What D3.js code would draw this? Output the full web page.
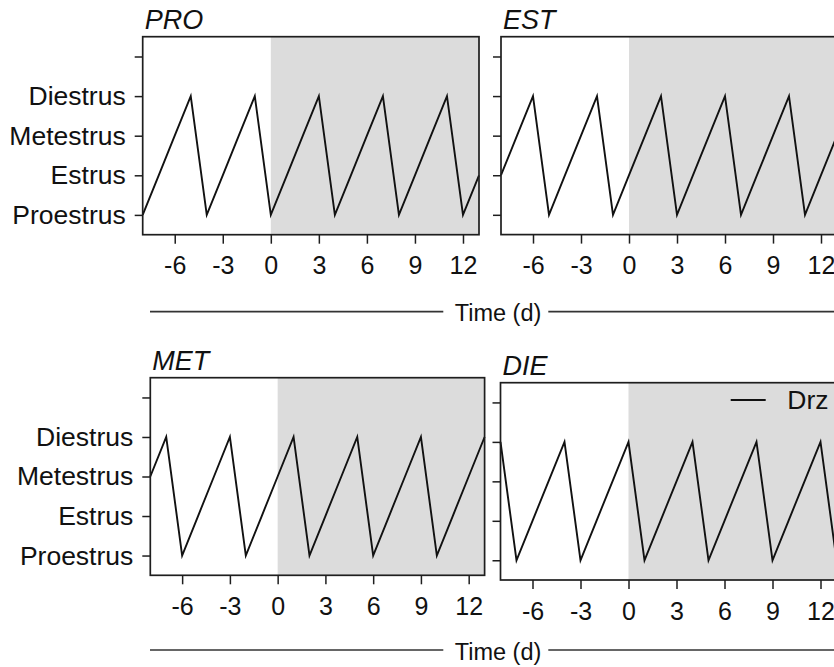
<!DOCTYPE html>
<html>
<head>
<meta charset="utf-8">
<script src="https://cdnjs.cloudflare.com/ajax/libs/d3/7.8.5/d3.min.js"></script>
<style>
  body { margin: 0; background: #fff; }
  svg { display: block; font-family: Arial, "Liberation Sans", sans-serif; }
  .frame { fill: none; stroke: #1e1e1e; stroke-width: 1.7; }
  .axis path { display: none; }
  .axis line { stroke: #1e1e1e; stroke-width: 1.5; }
  .axis text { fill: #111; font-family: Arial, "Liberation Sans", sans-serif; }
  .stage-line { fill: none; stroke: #111; stroke-width: 1.9; stroke-linejoin: miter; }
  .shade { fill: #dcdcdc; }
</style>
</head>
<body>
<div id="chart"></div>
<script>
// time in days relative to treatment start
var days = [-8, -7, -6, -5, -4, -3, -2, -1, 0, 1, 2, 3, 4, 5, 6, 7, 8, 9, 10, 11, 12, 13];

// estrous stage per day (1 = Proestrus, 2 = Estrus, 3 = Metestrus, 4 = Diestrus)
var proStage = [1, 2, 3, 4, 1, 2, 3, 4, 1, 2, 3, 4, 1, 2, 3, 4, 1, 2, 3, 4, 1, 2];
var estStage = [2, 3, 4, 1, 2, 3, 4, 1, 2, 3, 4, 1, 2, 3, 4, 1, 2, 3, 4, 1, 2, 3];
var metStage = [3, 4, 1, 2, 3, 4, 1, 2, 3, 4, 1, 2, 3, 4, 1, 2, 3, 4, 1, 2, 3, 4];
var dieStage = [4, 1, 2, 3, 4, 1, 2, 3, 4, 1, 2, 3, 4, 1, 2, 3, 4, 1, 2, 3, 4, 1];

var stageTicks = [1, 2, 3, 4, 5];
var stageLabels = ['Proestrus', 'Estrus', 'Metestrus', 'Diestrus', ''];
var dayTicks = [-6, -3, 0, 3, 6, 9, 12];
var dayLabels = ['-6', '-3', '0', '3', '6', '9', '12'];
var treatmentStart = 0;
var seriesName = 'Drz';
var xTitle = 'Time (d)';

var svgWidth = 834, svgHeight = 667;

var panels = [
    { title: 'PRO', values: proStage, x0: 142.7, x1: 479, y0: 36.7, y1: 234.7, labels: true, legend: false },
    { title: 'EST', values: estStage, x0: 501, x1: 837, y0: 36.7, y1: 234.6, labels: false, legend: false },
    { title: 'MET', values: metStage, x0: 150.3, x1: 484.6, y0: 377.7, y1: 575.3, labels: true, legend: false },
    { title: 'DIE', values: dieStage, x0: 500.5, x1: 836.5, y0: 382.7, y1: 580, labels: false, legend: true }
];

var svg = d3.select('#chart').append('svg')
    .attr('width', svgWidth)
    .attr('height', svgHeight);

function drawPanel(p) {
    var x = d3.scaleLinear().domain([-8, 13]).range([p.x0, p.x1]);
    var y = d3.scaleLinear().domain([0.5, 5.5]).range([p.y1, p.y0]);
    var g = svg.append('g').attr('class', 'panel');

    // treatment period shading
    g.append('rect')
        .attr('class', 'shade')
        .attr('x', x(treatmentStart))
        .attr('y', p.y0)
        .attr('width', x(13) - x(treatmentStart))
        .attr('height', p.y1 - p.y0);

    var line = d3.line()
        .x(function (d, i) { return x(days[i]); })
        .y(function (d) { return y(d); });

    g.append('path')
        .datum(p.values)
        .attr('class', 'stage-line')
        .attr('d', line);

    g.append('rect')
        .attr('class', 'frame')
        .attr('x', p.x0)
        .attr('y', p.y0)
        .attr('width', p.x1 - p.x0)
        .attr('height', p.y1 - p.y0);

    var xAxis = d3.axisBottom(x).tickValues(dayTicks).tickSize(9).tickPadding(13)
        .tickFormat(function (d, i) { return dayLabels[i]; });
    g.append('g')
        .attr('class', 'x axis')
        .attr('transform', 'translate(0,' + p.y1 + ')')
        .call(xAxis)
        .selectAll('text')
        .style('font-size', '25px');

    var yAxis = d3.axisLeft(y).tickValues(stageTicks).tickSize(8).tickPadding(9)
        .tickFormat(function (d, i) { return p.labels ? stageLabels[i] : ''; });
    g.append('g')
        .attr('class', 'y axis')
        .attr('transform', 'translate(' + p.x0 + ',0)')
        .call(yAxis)
        .selectAll('text')
        .style('font-size', '26.5px');

    g.append('text')
        .attr('x', p.x0 + 2)
        .attr('y', p.y0 - 8)
        .style('font-size', '27px')
        .style('font-style', 'italic')
        .style('fill', '#111')
        .text(p.title);

    if (p.legend) {
        g.append('line')
            .attr('x1', 730.7).attr('x2', 765.7)
            .attr('y1', 400).attr('y2', 400)
            .style('stroke', '#111')
            .style('stroke-width', 1.9);
        g.append('text')
            .attr('x', 787.3)
            .attr('y', 408.8)
            .style('font-size', '26.5px')
            .style('fill', '#111')
            .text(seriesName);
    }
}

panels.forEach(drawPanel);

// shared "Time (d)" titles with rules either side
[{ y: 311.7 }, { y: 650 }].forEach(function (t) {
    var g = svg.append('g').attr('class', 'time-title');
    g.append('line')
        .attr('x1', 150).attr('x2', 443.3)
        .attr('y1', t.y).attr('y2', t.y)
        .style('stroke', '#333').style('stroke-width', 1.7);
    g.append('line')
        .attr('x1', 548.3).attr('x2', svgWidth + 10)
        .attr('y1', t.y).attr('y2', t.y)
        .style('stroke', '#333').style('stroke-width', 1.7);
    g.append('text')
        .attr('x', 498)
        .attr('y', t.y + 9.5)
        .attr('text-anchor', 'middle')
        .style('font-size', '23.5px')
        .style('fill', '#111')
        .text(xTitle);
});
</script>
</body>
</html>
